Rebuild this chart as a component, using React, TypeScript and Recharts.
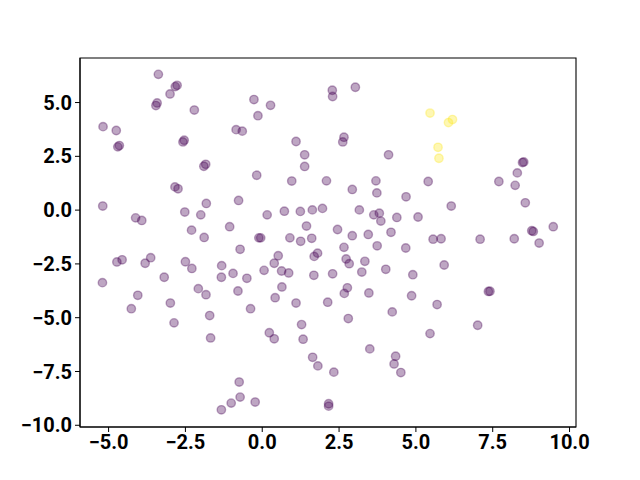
import React from 'react';
import {
  ScatterChart,
  Scatter,
  XAxis,
  YAxis,
  ReferenceArea,
} from 'recharts';

// cluster 0 (purple)
const purpleX = [
  -3.38, -2.77, -2.83, -3.0, -3.42, -3.46, -2.21, -5.18, -4.75, -4.65, -4.7, -2.54, -2.58, -0.85, -0.65,
  -1.84, -1.9, -2.84, -2.74, -5.19, -4.12, -3.92, -2.52, -2.0, -1.82, -0.77, -2.3, -1.89, -1.06, -0.72,
  -0.27, 0.27, -0.14, 2.28, 2.29, 3.03, 1.1, 2.66, 2.62, 1.38, 1.38, 4.11, -0.18, 0.96, 2.09,
  2.93, 3.7, 3.73, 4.68, 0.16, 0.72, 1.24, 1.63, 1.96, 3.16, 3.63, 3.81, 3.86, 4.38, 5.07,
  1.44, 2.45, 2.93, 3.45, 4.19, -0.11, -0.05, 0.9, 1.25, 1.61, 2.66, 3.74, 4.67, 8.51, 8.47,
  8.3, 7.7, 8.23, 5.4, 8.56, 6.15, 9.47, 8.82, 8.77, 5.56, 5.82, 7.09, 8.2, 9.01, 5.92,
  4.9, 4.86, 7.41, 7.36, 5.69, 7.01, 5.46, -4.73, -4.56, -3.81, -3.63, -5.2, -3.19, -2.5, -2.29,
  -1.32, -1.33, -0.95, -0.5, -2.08, -1.83, -0.79, -4.05, -4.26, -2.99, -2.87, -1.71, -1.68, -0.38, -0.75,
  -1.01, -0.72, -1.33, 0.52, 0.39, 0.06, 0.63, 0.86, 1.69, 1.8, 2.73, 2.83, 3.34, 1.68, 2.29,
  3.24, 4.02, 0.64, 0.42, 1.1, 2.13, 2.77, 2.67, 3.47, 4.23, 1.28, 2.8, 0.23, 0.39, 1.33,
  3.5, 1.64, 1.81, 2.33, 4.34, 4.29, 4.51, -0.23, 2.16, 2.16,
];
const purpleY = [
  6.31, 5.8, 5.74, 5.4, 4.98, 4.86, 4.65, 3.88, 3.7, 3.0, 2.94, 3.25, 3.17, 3.74, 3.67,
  2.13, 2.04, 1.08, 0.99, 0.19, -0.36, -0.48, -0.09, -0.22, 0.31, 0.45, -0.93, -1.27, -0.77, -1.82,
  5.14, 4.87, 4.39, 5.57, 5.28, 5.71, 3.19, 3.39, 3.17, 2.57, 2.03, 2.57, 1.62, 1.35, 1.36,
  0.96, 1.36, 0.8, 0.62, -0.22, -0.05, -0.06, 0.01, 0.08, 0.01, -0.22, -0.14, -0.51, -0.34, -0.32,
  -0.74, -0.9, -1.19, -1.13, -1.03, -1.29, -1.29, -1.29, -1.45, -1.31, -1.73, -1.66, -1.76, 2.24, 2.21,
  1.73, 1.33, 1.15, 1.33, 0.34, 0.19, -0.77, -0.99, -0.96, -1.35, -1.33, -1.35, -1.33, -1.53, -2.55,
  -3.0, -3.98, -3.77, -3.78, -4.39, -5.35, -5.74, -2.41, -2.31, -2.47, -2.21, -3.37, -3.12, -2.4, -2.71,
  -2.58, -3.12, -2.94, -3.17, -3.65, -3.93, -3.76, -3.96, -4.58, -4.32, -5.24, -4.9, -5.94, -4.58, -7.99,
  -8.97, -8.69, -9.28, -2.12, -2.47, -2.8, -2.83, -2.92, -2.15, -2.0, -2.27, -2.49, -2.38, -3.03, -2.96,
  -2.88, -2.75, -3.57, -4.07, -4.32, -4.28, -3.61, -3.87, -3.85, -4.73, -5.32, -5.04, -5.7, -5.98, -6.0,
  -6.45, -6.84, -7.24, -7.53, -6.79, -7.15, -7.55, -8.92, -9.0, -9.11,
];

// cluster 1 (yellow)
const yellowX = [5.46, 6.06, 6.19, 5.72, 5.75];
const yellowY = [4.51, 4.07, 4.21, 2.92, 2.41];

const xTicks = [-5, -2.5, 0, 2.5, 5, 7.5, 10];
const yTicks = [-10, -7.5, -5, -2.5, 0, 2.5, 5];

const xDomain: [number, number] = [-5.93, 10.21];
const yDomain: [number, number] = [-10.08, 7.07];

const purple = purpleX.map((x, i) => ({ x, y: purpleY[i] }));
const yellow = yellowX.map((x, i) => ({ x, y: yellowY[i] }));

const fmt = (v: number) => v.toFixed(1).replace('-', '\u2212');

const tickStyle = { fontSize: 20, fontFamily: 'Roboto, sans-serif', fontWeight: 700, fill: '#000' };

function dot(color: string) {
  return (props: any) => (
    <circle
      cx={props.cx}
      cy={props.cy}
      r={4.2}
      fill={color}
      fillOpacity={0.35}
      stroke={color}
      strokeOpacity={0.35}
      strokeWidth={1.4}
    />
  );
}

export default function App() {
  return (
    <div style={{ position: 'absolute', left: 0, top: 0, width: 640, height: 480, background: '#fff' }}>
      <ScatterChart width={640} height={480} margin={{ top: 58, right: 64, left: 0, bottom: 0 }}>
        <XAxis
          type="number"
          dataKey="x"
          domain={xDomain}
          ticks={xTicks}
          tickFormatter={fmt}
          allowDataOverflow
          height={53}
          tick={tickStyle}
          tickSize={5}
          tickMargin={3}
          stroke="#000"
        />
        <YAxis
          type="number"
          dataKey="y"
          domain={yDomain}
          ticks={yTicks}
          tickFormatter={fmt}
          allowDataOverflow
          width={80}
          tick={tickStyle}
          tickSize={5}
          tickMargin={3}
          stroke="#000"
        />
        <ReferenceArea
          x1={xDomain[0]}
          x2={xDomain[1]}
          y1={yDomain[0]}
          y2={yDomain[1]}
          fill="none"
          stroke="#000"
          strokeWidth={1.1}
          ifOverflow="visible"
        />
        <Scatter data={purple} shape={dot('#440154')} isAnimationActive={false} />
        <Scatter data={yellow} shape={dot('#fde725')} isAnimationActive={false} />
      </ScatterChart>
    </div>
  );
}
